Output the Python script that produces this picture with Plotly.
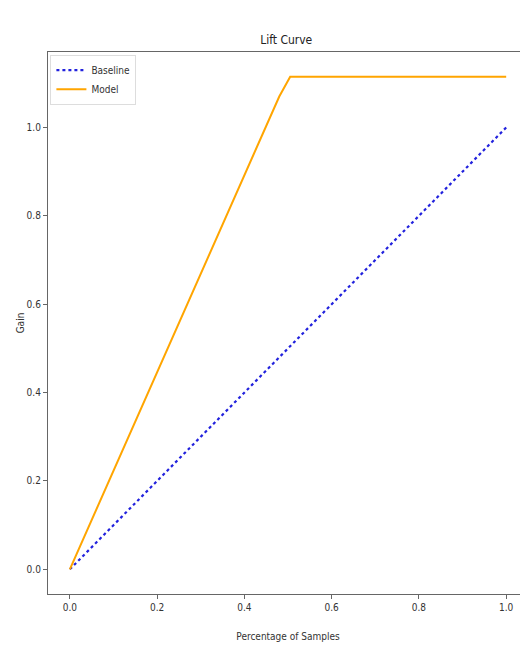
import plotly.graph_objects as go

baseline_x = [0.0, 1.0]
baseline_y = [0.0, 1.0]
model_x = [0.0, 0.48, 0.505, 1.0]
model_y = [0.0, 1.07, 1.115, 1.115]
x_ticks = [0.0, 0.2, 0.4, 0.6, 0.8, 1.0]
y_ticks = [0.0, 0.2, 0.4, 0.6, 0.8, 1.0]

FONT = "Liberation Sans Narrow, DejaVu Sans Condensed, Arial Narrow, sans-serif"

fig = go.Figure()
fig.add_trace(go.Scatter(x=baseline_x, y=baseline_y, mode="lines", name="Baseline",
                         line=dict(color="#2222dd", width=2.2, dash="dot")))
fig.add_trace(go.Scatter(x=model_x, y=model_y, mode="lines", name="Model",
                         line=dict(color="orange", width=2)))

axis_common = dict(showline=True, linecolor="#666", linewidth=1.2, mirror=True,
                   ticks="outside", ticklen=4, tickcolor="#666", showgrid=False,
                   zeroline=False, tickfont=dict(family=FONT, size=10, color="#333"))
fig.update_layout(
    width=520, height=639,
    margin=dict(l=40, r=0, t=44, b=53),
    paper_bgcolor="white", plot_bgcolor="white",
    title=dict(text="Lift Curve", x=0.535, xanchor="center", y=0.95, yanchor="middle",
               font=dict(family=FONT, size=12, color="#222")),
    showlegend=True,
    legend=dict(x=0.005, y=0.995, xanchor="left", yanchor="top",
                bgcolor="white", bordercolor="#ddd", borderwidth=1,
                font=dict(family=FONT, size=10, color="#333")),
    font=dict(family=FONT),
)
fig.update_xaxes(range=[-0.05, 1.05], tickvals=x_ticks, ticktext=[f"{v:.1f}" for v in x_ticks],
                 title=dict(text="Percentage of Samples", font=dict(family=FONT, size=10, color="#333"), standoff=20),
                 **axis_common)
fig.update_yaxes(range=[-0.0558, 1.1708], tickvals=y_ticks, ticktext=[f"{v:.1f}" for v in y_ticks],
                 title=dict(text="Gain", font=dict(family=FONT, size=10, color="#333"), standoff=0),
                 **axis_common)

fig.write_html("out.html")
